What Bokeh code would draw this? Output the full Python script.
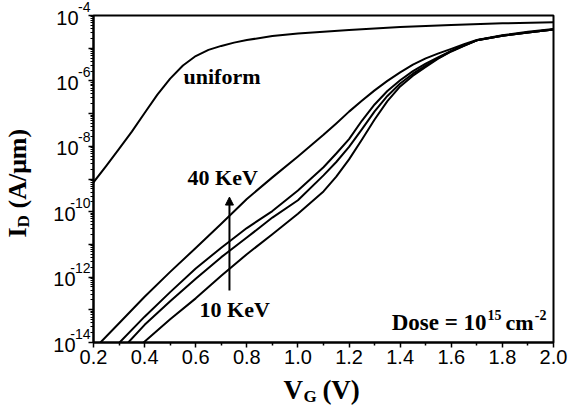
import numpy as np
from math import pi
from bokeh.plotting import figure
from bokeh.models import (Label, Arrow, NormalHead, FixedTicker, GridBox, Column,
                          CustomJSTickFormatter, Range1d)
from bokeh.embed import file_html
from bokeh.resources import INLINE

# ---------------- data ----------------
# gate voltage (V) and log10 of drain current (A/um)
v_uniform = [0.2, 0.25, 0.3, 0.35, 0.4, 0.45, 0.5, 0.55, 0.6, 0.65, 0.7,
             0.75, 0.8, 0.9, 1.0, 1.2, 1.4, 1.6, 1.8, 2.0]
log_uniform = [-9.10, -8.60, -8.08, -7.55, -6.98, -6.42, -5.93, -5.53, -5.24,
               -5.05, -4.93, -4.83, -4.75, -4.63, -4.55, -4.44, -4.35, -4.29,
               -4.24, -4.21]

v_40kev = [0.227, 0.3, 0.4, 0.5, 0.6, 0.7, 0.8, 0.9, 1.0, 1.1, 1.15, 1.2,
           1.25, 1.3, 1.35, 1.4, 1.45, 1.5, 1.55, 1.6, 1.65, 1.7, 1.8, 1.9, 2.0]
log_40kev = [-14.0, -13.41, -12.60, -11.84, -11.11, -10.37, -9.61, -8.95,
             -8.31, -7.65, -7.30, -6.94, -6.61, -6.29, -6.00, -5.74, -5.50,
             -5.31, -5.16, -5.02, -4.88, -4.75, -4.60, -4.50, -4.41]

v_30kev = [0.302, 0.4, 0.5, 0.6, 0.7, 0.8, 0.9, 1.0, 1.1, 1.15, 1.2, 1.25,
           1.3, 1.35, 1.4, 1.45, 1.5, 1.55, 1.6, 1.65, 1.7, 1.8, 1.9, 2.0]
log_30kev = [-14.0, -13.21, -12.46, -11.74, -11.10, -10.50, -9.98, -9.35,
             -8.64, -8.22, -7.78, -7.22, -6.72, -6.31, -5.98, -5.70, -5.47,
             -5.27, -5.08, -4.91, -4.76, -4.62, -4.52, -4.43]

v_20kev = [0.336, 0.4, 0.5, 0.6, 0.7, 0.8, 0.9, 1.0, 1.1, 1.15, 1.2, 1.25,
           1.3, 1.35, 1.4, 1.45, 1.5, 1.55, 1.6, 1.65, 1.7, 1.8, 1.9, 2.0]
log_20kev = [-14.0, -13.46, -12.74, -12.05, -11.39, -10.79, -10.18, -9.65,
             -8.89, -8.48, -8.02, -7.48, -6.93, -6.46, -6.08, -5.78, -5.53,
             -5.30, -5.09, -4.92, -4.76, -4.62, -4.52, -4.43]

v_10kev = [0.396, 0.5, 0.6, 0.7, 0.8, 0.9, 1.0, 1.1, 1.15, 1.2, 1.25, 1.3,
           1.35, 1.4, 1.45, 1.5, 1.55, 1.6, 1.65, 1.7, 1.8, 1.9, 2.0]
log_10kev = [-14.0, -13.29, -12.65, -11.96, -11.30, -10.69, -10.06, -9.38,
             -8.93, -8.40, -7.80, -7.18, -6.62, -6.17, -5.84, -5.57, -5.31,
             -5.10, -4.93, -4.76, -4.62, -4.52, -4.43]

x_ticks = [0.2, 0.4, 0.6, 0.8, 1.0, 1.2, 1.4, 1.6, 1.8, 2.0]
x_minor = [0.3, 0.5, 0.7, 0.9, 1.1, 1.3, 1.5, 1.7, 1.9]
y_decades = list(range(-14, -3))          # major ticks, every decade
y_label_decades = [-4, -6, -8, -10, -12, -14]

# annotation anchors (data coords)
arrow_v = 0.732
arrow_from, arrow_to = 3.9e-13, 2.8e-10

SERIF = "Liberation Serif"
SANS = "Liberation Sans"

# layout (pixels)
W, H = 570, 412
FL, FR, FT, FB = 93, 17, 15, 70
FW, FH = W - FL - FR, H - FT - FB
X0, X1 = 0.2, 2.0
LY0, LY1 = -14, -4

p = figure(frame_width=FW, frame_height=FH,
           x_range=Range1d(X0, X1), y_range=Range1d(10.0 ** LY0, 10.0 ** LY1),
           y_axis_type="log", output_backend="svg", toolbar_location=None,
           min_border_left=FL, min_border_right=FR, min_border_top=FT,
           min_border_bottom=FB)
p.background_fill_color = "white"
p.border_fill_color = "white"
p.grid.visible = False
p.outline_line_color = "black"
p.outline_line_width = 2

# x axis
xa = p.xaxis[0]
xa.ticker = FixedTicker(ticks=x_ticks, minor_ticks=x_minor)
xa.axis_line_width = 2
xa.major_tick_out = 5
xa.major_tick_in = 0
xa.minor_tick_out = 3
xa.minor_tick_in = 0
xa.major_tick_line_width = 1.5
xa.minor_tick_line_width = 1.5
xa.major_label_text_font = SANS
xa.major_label_text_font_size = "20px"
xa.major_label_text_color = "black"
xa.major_label_standoff = 2
xa.formatter = CustomJSTickFormatter(code="return tick.toFixed(1);")

# y axis (ticks only; labels are drawn on the overlay)
ya = p.yaxis[0]
y_minor = [m * 10.0 ** e for e in range(-14, -4) for m in range(2, 10)]
ya.ticker = FixedTicker(ticks=[10.0 ** e for e in y_decades], minor_ticks=y_minor)
ya.axis_line_width = 2
ya.major_tick_out = 5
ya.major_tick_in = 0
ya.minor_tick_out = 3
ya.minor_tick_in = 0
ya.major_tick_line_width = 1.5
ya.minor_tick_line_width = 1.2
ya.formatter = CustomJSTickFormatter(code="return '';")
ya.major_label_standoff = 0

# curves
for v, lg in [(v_uniform, log_uniform), (v_40kev, log_40kev),
              (v_30kev, log_30kev), (v_20kev, log_20kev), (v_10kev, log_10kev)]:
    p.line(v, list(10.0 ** np.array(lg)), line_color="black", line_width=2,
           line_join="round")

# transparent overlay covering the whole canvas, with the same data mapping
# extended to the margins, so texts outside the frame are not clipped
ppx = FW / (X1 - X0)
ppd = FH / (LY1 - LY0)
q = figure(width=W, height=H,
           x_range=Range1d(X0 - FL / ppx, X1 + FR / ppx),
           y_range=Range1d(10.0 ** (LY0 - FB / ppd), 10.0 ** (LY1 + FT / ppd)),
           y_axis_type="log", x_axis_location=None, y_axis_location=None,
           output_backend="svg", toolbar_location=None,
           min_border=0, min_border_left=0, min_border_right=0,
           min_border_top=0, min_border_bottom=0)
q.background_fill_color = None
q.border_fill_color = None
q.outline_line_color = None
q.grid.visible = False

for f in (p, q):
    if "frame_align" in f.properties():
        f.frame_align = False

DY = 8  # baseline calibration


def lab(fig, text, x, y, size, xo=0, yo=0, angle=0.0, align="left",
        font=SERIF, bold=True):
    fig.add_layout(Label(x=x, y=y, x_offset=xo, y_offset=yo, text=text,
                         text_align=align, text_baseline="alphabetic",
                         angle=angle, text_font=font,
                         text_font_style="bold" if bold else "normal",
                         text_font_size=size, text_color="black"))


# y tick labels 10^n (superscript right-aligned next to the axis)
for e in y_label_decades:
    sup = str(e)
    base_xo = -15 if len(sup) == 2 else -18
    lab(q, "10", 0.2, 10.0 ** e, "20px", base_xo, -10 + DY, align="right",
        font=SANS, bold=False)
    lab(q, sup, 0.2, 10.0 ** e, "14px", -3, 1 + DY, align="right", font=SANS,
        bold=False)

# axis titles
lab(q, "V", 0.943, 1e-14, "27px", 0, -55 + DY)
lab(q, "G", 0.943, 1e-14, "17px", 20, -62 + DY)
lab(q, "(V)", 0.943, 1e-14, "27px", 39, -55 + DY)

yl = 10.0 ** -10.79
lab(q, "I", 0.2, yl, "26px", -76, 0, pi / 2)
lab(q, "D", 0.2, yl, "17px", -70, 10, pi / 2)
lab(q, "(A/\u03bcm)", 0.2, yl, "26px", -76, 29, pi / 2)

# curve annotations (inside the frame)
lab(p, "uniform", 0.560, 7.8e-7, "22px", -2, DY)
lab(p, "40 KeV", 0.576, 6.3e-10, "22px", -2, DY)
lab(p, "10 KeV", 0.619, 5.8e-14, "22px", -1, DY)

# dose text (right aligned at the right edge of the frame)
lab(p, "-2", 2.0, 1e-14, "14px", -7, 20 + DY, align="right")
lab(p, "cm", 2.0, 1e-14, "22px", -20, 12 + DY, align="right")
lab(p, "15", 2.0, 1e-14, "14px", -52, 20 + DY, align="right")
lab(p, "Dose = 10", 2.0, 1e-14, "23px", -67, 12 + DY, align="right")

p.add_layout(Arrow(end=NormalHead(size=8, fill_color="black", line_color="black"),
                   x_start=arrow_v, y_start=arrow_from, x_end=arrow_v, y_end=arrow_to,
                   line_color="black", line_width=2))

root = GridBox(children=[(Column(children=[p]), 0, 0),
                         (Column(children=[q]), 0, 0)])
open("out.html", "w").write(file_html(root, INLINE))
